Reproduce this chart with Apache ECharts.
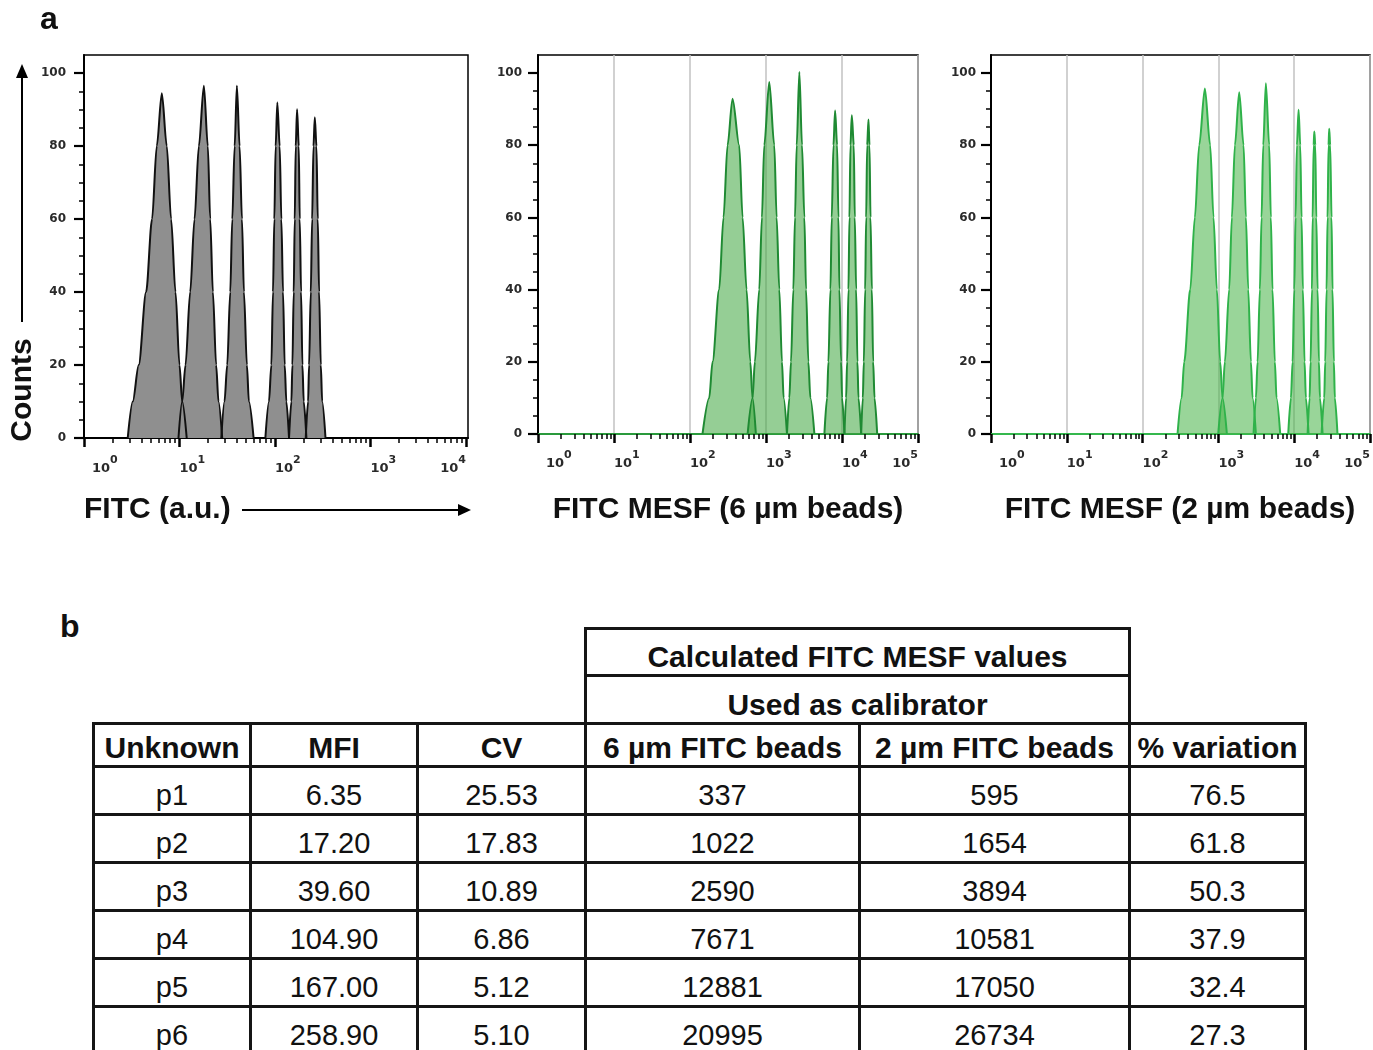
<!DOCTYPE html>
<html>
<head>
<meta charset="utf-8">
<title>FITC MESF calibration</title>
<script src="https://cdn.jsdelivr.net/npm/echarts@6.0.0/dist/echarts.min.js"></script>
<style>
  html, body { margin: 0; padding: 0; background: #fff; }
  body { position: relative; width: 1373px; height: 1050px; overflow: hidden; font-family: "Liberation Sans", Arial, sans-serif; }
  #chart { position: absolute; left: 0; top: 0; width: 1373px; height: 580px; }
  #tbl { position: absolute; left: 92px; top: 627px; border-collapse: collapse; table-layout: fixed; color: #111; }
  #tbl td { border: 3px solid #151515; text-align: center; vertical-align: bottom; padding: 0 0 1px 0; font-size: 29px; line-height: 33px; white-space: nowrap; overflow: hidden; }
  #tbl td.e { border: none; }
  #tbl td.h { font-weight: bold; font-size: 30px; padding-bottom: 1px; }
</style>
</head>
<body>
<div id="chart"></div>
<table id="tbl"></table>
<script>
// ---- histogram peaks: [fluorescence, counts] ----
const auCounts = [
  [[2.87,0],[3.24,10],[3.74,20],[4.47,40],[5.16,60],[5.78,80],[6.53,94.5],[7.36,80],[8.17,60],[9.08,40],[10.0,20],[10.67,10],[11.9,0]],
  [[9.76,0],[10.67,10],[11.56,20],[12.94,40],[14.36,60],[15.95,80],[18.0,96.6],[19.8,80],[20.97,60],[22.37,40],[24.2,20],[25.6,10],[28.0,0]],
  [[27.4,0],[29.6,10],[31.6,20],[34.0,40],[35.7,60],[37.8,80],[39.9,96.6],[42.6,80],[45.1,60],[47.3,40],[50.8,20],[53.3,10],[59.7,0]],
  [[79.3,0],[86.5,10],[91.6,20],[95.3,40],[98.4,60],[101.6,80],[105.8,92.0],[112.0,80],[116.6,60],[121.4,40],[126.4,20],[131.5,10],[140.3,0]],
  [[140.3,0],[148.5,10],[152.1,20],[157.1,40],[161.0,60],[164.9,80],[170.3,90.1],[177.4,80],[181.6,60],[187.6,40],[193.8,20],[200.0,10],[213.3,0]],
  [[209.9,0],[222.2,10],[227.5,20],[237.1,40],[244.9,60],[252.9,80],[261.2,87.9],[271.8,80],[280.6,60],[289.7,40],[301.9,20],[311.9,10],[338.0,0]]
];

const mesf6Counts = [
  [[146,0],[179,10],[198,20],[242,40],[276,60],[312,80],[363,92.9],[444,80],[492,60],[555,40],[621,20],[665,10],[736,0]],
  [[573,0],[665,10],[714,20],[815,40],[884,60],[948,80],[1104,97.5],[1285,80],[1380,60],[1496,40],[1622,20],[1706,10],[1888,0]],
  [[1888,0],[2027,10],[2132,20],[2289,40],[2408,60],[2535,80],[2747,100.3],[2978,80],[3197,60],[3364,40],[3609,20],[3835,10],[4333,0]],
  [[5866,0],[6362,10],[6622,20],[7041,40],[7333,60],[7716,80],[8113,89.6],[8622,80],[8979,60],[9252,40],[9734,20],[10028,10],[10762,0]],
  [[10762,0],[11324,10],[11674,20],[12160,40],[12529,60],[12909,80],[13459,88.3],[14296,80],[14732,60],[15350,40],[15967,20],[16476,10],[17876,0]],
  [[17876,0],[18793,10],[19375,20],[20167,40],[20788,60],[21430,80],[22300,87.1],[23004,80],[23714,60],[24717,40],[25704,20],[26792,10],[29040,0]]
];

const mesf2Counts = [
  [[289,0],[327,10],[354,20],[425,40],[489,60],[558,80],[663,95.7],[779,80],[862,60],[954,40],[1056,20],[1133,10],[1294,0]],
  [[994,0],[1133,10],[1217,20],[1388,40],[1506,60],[1651,80],[1882,94.7],[2148,80],[2306,60],[2475,40],[2685,20],[2825,10],[3125,0]],
  [[2909,0],[3125,10],[3287,20],[3526,40],[3710,60],[3902,80],[4229,97.2],[4680,80],[4920,60],[5173,40],[5556,20],[5844,10],[6541,0]],
  [[8341,0],[9057,10],[9525,20],[10021,40],[10427,60],[10857,80],[11423,89.8],[12018,80],[12501,60],[13023,40],[13700,20],[14262,10],[15474,0]],
  [[15020,0],[15975,10],[16455,20],[17147,40],[17506,60],[18046,80],[18415,83.8],[18983,80],[19568,60],[20371,40],[21206,20],[21859,10],[23713,0]],
  [[22968,0],[24907,10],[25664,20],[26733,40],[27542,60],[28377,80],[28970,84.6],[29848,80],[31093,60],[32035,40],[33362,20],[34373,10],[37229,0]]
];

// ---- axis ticks ----
const decades4 = [1, 10, 100, 1000, 10000];
const decades5 = [1, 10, 100, 1000, 10000, 100000];
const yMajorTicks = [0, 20, 40, 60, 80, 100];
const yMinorTicks = [5, 10, 15, 25, 30, 35, 45, 50, 55, 65, 70, 75, 85, 90, 95];

// ---- table b ----
const headers = ['Unknown', 'MFI', 'CV', '6 µm FITC beads', '2 µm FITC beads', '% variation'];
const unknowns = ['p1', 'p2', 'p3', 'p4', 'p5', 'p6'];
const mfi = ['6.35', '17.20', '39.60', '104.90', '167.00', '258.90'];
const cv = ['25.53', '17.83', '10.89', '6.86', '5.12', '5.10'];
const mesf6um = ['337', '1022', '2590', '7671', '12881', '20995'];
const mesf2um = ['595', '1654', '3894', '10581', '17050', '26734'];
const variation = ['76.5', '61.8', '50.3', '37.9', '32.4', '27.3'];

function minorFor(decades) {
  let out = [];
  decades.slice(0, -1).forEach(function(d) {
    for (let m = 2; m <= 9; m++) out.push(m * d);
  });
  return out;
}

function expLabel(value) {
  let e = Math.round(Math.log10(value));
  return (e === 0 ? '{f|10}' : '{b|10}') + '{s|' + e + '}';
}

const tickFont = 'DejaVu Sans';
const tickColor = '#2a2a2a';
const labelRich = {
  b: {fontSize: 13, fontWeight: 'bold', fontFamily: tickFont, color: tickColor, lineHeight: 22, padding: [9, 0, 0, 0], verticalAlign: 'bottom'},
  f: {fontSize: 13, fontWeight: 'bold', fontFamily: tickFont, color: tickColor, lineHeight: 22, padding: [9, 0, 0, 8], verticalAlign: 'bottom'},
  s: {fontSize: 11, fontWeight: 'bold', fontFamily: tickFont, color: tickColor, lineHeight: 11, padding: [2, 0, 0, 0], verticalAlign: 'top'}
};

const panels = [
  {left: 84, width: 384, height: 383, xMax: 10500, decades: decades4, peaks: auCounts,
   fill: '#8f8f8f', fillOpacity: 1, stroke: '#111', axisColor: '#000', grid: false, yMargin: 18, xMargin: 15},
  {left: 538, width: 380, height: 379, xMax: 100000, decades: decades5, peaks: mesf6Counts,
   fill: '#3ea63e', fillOpacity: 0.55, stroke: '#1f8a33', axisColor: '#2a9a3c', grid: true, yMargin: 16, xMargin: 14},
  {left: 991, width: 379, height: 379, xMax: 100000, decades: decades5, peaks: mesf2Counts,
   fill: '#45b345', fillOpacity: 0.55, stroke: '#2fb24a', axisColor: '#35b84e', grid: true, yMargin: 15, xMargin: 14}
];

let grids = [], xAxes = [], yAxes = [], series = [];

panels.forEach(function(p, i) {
  grids.push({left: p.left, top: 55, width: p.width, height: p.height, show: true,
              borderColor: '#000', borderWidth: 1.5});
  // decades: long ticks + labels
  xAxes.push({
    type: 'log', logBase: 10, gridIndex: i, position: 'bottom', min: 1, max: p.xMax,
    axisLine: {show: true, onZero: false, lineStyle: {color: p.axisColor, width: 2}},
    axisTick: {show: true, customValues: p.decades, length: 9, lineStyle: {color: '#000', width: 2.5}},
    axisLabel: {show: true, customValues: p.decades, formatter: expLabel, rich: labelRich,
                align: 'left', alignMaxLabel: 'right', margin: p.xMargin},
    splitLine: {show: p.grid, lineStyle: {color: '#c2c2c2', width: 1.5}}
  });
  // 2..9 of each decade: short ticks
  xAxes.push({
    type: 'log', logBase: 10, gridIndex: i, position: 'bottom', min: 1, max: p.xMax,
    axisLine: {show: false},
    axisTick: {show: true, customValues: minorFor(p.decades), length: 5, lineStyle: {color: '#000', width: 1.5}},
    axisLabel: {show: false},
    splitLine: {show: false}
  });
  yAxes.push({
    type: 'value', gridIndex: i, position: 'left', min: 0, max: 105,
    axisLine: {show: true, onZero: false, lineStyle: {color: '#000', width: 2}},
    axisTick: {show: true, customValues: yMajorTicks, length: 10, lineStyle: {color: '#000', width: 2.2}},
    axisLabel: {show: true, customValues: yMajorTicks, margin: p.yMargin, fontSize: 12, fontWeight: 'bold',
                fontFamily: tickFont, color: tickColor},
    splitLine: {show: false}
  });
  yAxes.push({
    type: 'value', gridIndex: i, position: 'left', min: 0, max: 105,
    axisLine: {show: false},
    axisTick: {show: true, customValues: yMinorTicks, length: 5, lineStyle: {color: '#000', width: 1.5}},
    axisLabel: {show: false},
    splitLine: {show: false}
  });

  p.peaks.forEach(function(peak) {
    series.push({
      type: 'line', xAxisIndex: 2 * i, yAxisIndex: 2 * i, data: peak,
      smooth: 0.3, smoothMonotone: 'x', showSymbol: false, silent: true, z: 2,
      lineStyle: {width: 0},
      areaStyle: {color: p.fill, opacity: p.fillOpacity}
    });
    series.push({
      type: 'line', xAxisIndex: 2 * i, yAxisIndex: 2 * i, data: peak,
      smooth: 0.3, smoothMonotone: 'x', showSymbol: false, silent: true, z: 3,
      lineStyle: {color: p.stroke, width: 2}
    });
  });
});

const titleFont = '"Liberation Sans", Arial, sans-serif';

let option = {
  animation: false,
  grid: grids,
  xAxis: xAxes,
  yAxis: yAxes,
  series: series,
  graphic: [
    {type: 'text', x: 40, y: 20, style: {text: 'a', fontSize: 32, fontWeight: 'bold', fontFamily: titleFont, fill: '#111', align: 'left', verticalAlign: 'middle'}},
    {type: 'text', x: 23, y: 390, rotation: Math.PI / 2, style: {text: 'Counts', fontSize: 30, fontWeight: 'bold', fontFamily: titleFont, fill: '#111', align: 'center', verticalAlign: 'middle'}},
    {type: 'line', shape: {x1: 22, y1: 76, x2: 22, y2: 322}, style: {stroke: '#000', lineWidth: 2}},
    {type: 'polygon', shape: {points: [[22, 64], [16, 78], [28, 78]]}, style: {fill: '#000'}},
    {type: 'text', x: 84, y: 510, style: {text: 'FITC (a.u.)', fontSize: 30, fontWeight: 'bold', fontFamily: titleFont, fill: '#111', align: 'left', verticalAlign: 'middle'}},
    {type: 'line', shape: {x1: 242, y1: 510, x2: 460, y2: 510}, style: {stroke: '#000', lineWidth: 2}},
    {type: 'polygon', shape: {points: [[471, 510], [458, 504], [458, 516]]}, style: {fill: '#000'}},
    {type: 'text', x: 728, y: 510, style: {text: 'FITC MESF (6 µm beads)', fontSize: 30, fontWeight: 'bold', fontFamily: titleFont, fill: '#111', align: 'center', verticalAlign: 'middle'}},
    {type: 'text', x: 1180, y: 510, style: {text: 'FITC MESF (2 µm beads)', fontSize: 30, fontWeight: 'bold', fontFamily: titleFont, fill: '#111', align: 'center', verticalAlign: 'middle'}}
  ]
};

let chart = echarts.init(document.getElementById('chart'), null, {renderer: 'canvas'});
chart.setOption(option);

// ---- table ----
const colWidths = [157, 167, 168, 274, 270, 176];
let html = '<colgroup>' + colWidths.map(function(w) { return '<col style="width:' + w + 'px">'; }).join('') + '</colgroup>';
html += '<tr style="height:47px"><td class="e" colspan="3"></td><td class="h" colspan="2">Calculated FITC MESF values</td><td class="e"></td></tr>';
html += '<tr style="height:48px"><td class="e" colspan="3"></td><td class="h" colspan="2">Used as calibrator</td><td class="e"></td></tr>';
html += '<tr style="height:43px">' + headers.map(function(h) { return '<td class="h">' + h + '</td>'; }).join('') + '</tr>';
unknowns.forEach(function(u, i) {
  let cells = [u, mfi[i], cv[i], mesf6um[i], mesf2um[i], variation[i]];
  html += '<tr style="height:48px">' + cells.map(function(c) { return '<td>' + c + '</td>'; }).join('') + '</tr>';
});
let tbl = document.getElementById('tbl');
tbl.style.width = colWidths.reduce(function(a, b) { return a + b; }, 0) + 'px';
tbl.innerHTML = html;

// panel label b
let lab = document.createElement('div');
lab.textContent = 'b';
lab.style.cssText = 'position:absolute;left:60px;top:608px;font:bold 32px "Liberation Sans",Arial,sans-serif;color:#111;';
document.body.appendChild(lab);
</script>
</body>
</html>
